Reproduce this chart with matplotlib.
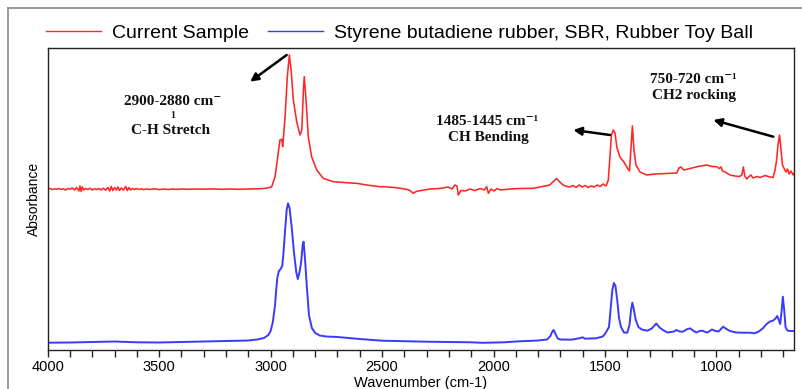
import matplotlib.pyplot as plt
from matplotlib.lines import Line2D
from matplotlib.ticker import MultipleLocator

plt.rcParams['font.family'] = ['Liberation Sans', 'DejaVu Sans']

# Current sample, stacked above the reference (wavenumber cm-1, absorbance)
sample_spectrum = [
    (4000, 1.610), (3990, 1.615), (3980, 1.605), (3970, 1.612), (3960, 1.608),
    (3950, 1.615), (3940, 1.605), (3930, 1.612), (3920, 1.600), (3910, 1.615),
    (3900, 1.608), (3890, 1.620), (3880, 1.600), (3870, 1.625), (3860, 1.590),
    (3855, 1.640), (3850, 1.585), (3845, 1.630), (3838, 1.600), (3830, 1.615),
    (3820, 1.605), (3810, 1.618), (3800, 1.600), (3790, 1.612), (3780, 1.605),
    (3770, 1.615), (3760, 1.600), (3750, 1.618), (3740, 1.598), (3730, 1.625),
    (3722, 1.590), (3715, 1.635), (3708, 1.595), (3700, 1.625), (3692, 1.600),
    (3685, 1.630), (3678, 1.595), (3670, 1.620), (3660, 1.600), (3650, 1.635),
    (3643, 1.595), (3636, 1.625), (3628, 1.600), (3620, 1.615), (3610, 1.605),
    (3600, 1.615), (3590, 1.605), (3580, 1.612), (3570, 1.603), (3560, 1.610),
    (3540, 1.606), (3520, 1.612), (3500, 1.604), (3480, 1.610), (3460, 1.605),
    (3440, 1.610), (3420, 1.606), (3400, 1.610), (3370, 1.607), (3340, 1.610),
    (3300, 1.608), (3260, 1.611), (3220, 1.607), (3180, 1.610), (3140, 1.607),
    (3100, 1.610), (3060, 1.612), (3030, 1.615), (3010, 1.622), (2995, 1.633),
    (2980, 1.733), (2970, 1.900), (2958, 2.100), (2950, 2.107), (2946, 2.033),
    (2935, 2.333), (2925, 2.733), (2916, 2.950), (2908, 2.800), (2898, 2.500),
    (2883, 2.283), (2868, 2.150), (2860, 2.200), (2853, 2.600), (2849, 2.733),
    (2841, 2.500), (2831, 2.133), (2816, 1.933), (2793, 1.800), (2764, 1.717),
    (2719, 1.683), (2659, 1.673), (2614, 1.667), (2569, 1.650), (2509, 1.633),
    (2495, 1.633), (2442, 1.625), (2390, 1.607), (2375, 1.595), (2360, 1.567),
    (2347, 1.585), (2330, 1.593), (2285, 1.610), (2240, 1.615), (2204, 1.630),
    (2186, 1.610), (2173, 1.650), (2164, 1.640), (2158, 1.550), (2146, 1.595),
    (2128, 1.590), (2105, 1.610), (2083, 1.595), (2060, 1.615), (2042, 1.600),
    (2031, 1.633), (2023, 1.567), (2011, 1.610), (1998, 1.590), (1984, 1.615),
    (1970, 1.600), (1925, 1.610), (1880, 1.615), (1821, 1.617), (1769, 1.640),
    (1747, 1.650), (1734, 1.680), (1717, 1.715), (1707, 1.690), (1688, 1.650),
    (1670, 1.635), (1657, 1.630), (1643, 1.645), (1630, 1.625), (1616, 1.650),
    (1602, 1.630), (1589, 1.645), (1576, 1.625), (1562, 1.640), (1549, 1.630),
    (1535, 1.650), (1522, 1.635), (1508, 1.660), (1495, 1.640), (1485, 1.700),
    (1477, 1.950), (1471, 2.150), (1463, 2.200), (1455, 2.170), (1446, 2.020),
    (1433, 1.930), (1415, 1.880), (1397, 1.810), (1390, 1.790), (1384, 2.000),
    (1377, 2.240), (1370, 2.000), (1361, 1.850), (1343, 1.780), (1313, 1.750),
    (1273, 1.760), (1228, 1.765), (1178, 1.770), (1168, 1.820), (1159, 1.830),
    (1146, 1.800), (1118, 1.815), (1083, 1.835), (1043, 1.850), (1020, 1.835),
    (999, 1.833), (988, 1.815), (979, 1.830), (973, 1.790), (961, 1.780),
    (939, 1.750), (917, 1.740), (896, 1.735), (886, 1.750), (879, 1.830),
    (873, 1.740), (864, 1.710), (854, 1.735), (845, 1.750), (836, 1.720),
    (818, 1.735), (804, 1.725), (782, 1.745), (760, 1.730), (746, 1.725),
    (737, 1.800), (730, 1.900), (724, 2.050), (717, 2.150), (710, 2.000),
    (704, 1.850), (697, 1.820), (688, 1.780), (681, 1.810), (674, 1.760),
    (665, 1.790), (656, 1.750), (647, 1.780),
]

# Library reference: styrene butadiene rubber
sbr_spectrum = [
    (4000, 0.073), (3900, 0.075), (3800, 0.080), (3700, 0.085), (3600, 0.077),
    (3500, 0.075), (3400, 0.080), (3300, 0.085), (3200, 0.090), (3100, 0.095),
    (3060, 0.105), (3030, 0.120), (3010, 0.150), (3000, 0.190), (2990, 0.280),
    (2980, 0.450), (2975, 0.600), (2970, 0.720), (2963, 0.790), (2955, 0.810),
    (2948, 0.840), (2943, 0.950), (2935, 1.200), (2928, 1.400), (2922, 1.467),
    (2915, 1.420), (2905, 1.220), (2895, 0.970), (2885, 0.780), (2878, 0.710),
    (2870, 0.780), (2863, 0.880), (2856, 1.050), (2852, 1.083), (2846, 0.920),
    (2838, 0.650), (2828, 0.350), (2815, 0.220), (2800, 0.170), (2780, 0.145),
    (2750, 0.135), (2700, 0.130), (2650, 0.120), (2600, 0.110), (2500, 0.093),
    (2400, 0.088), (2300, 0.083), (2200, 0.080), (2100, 0.077), (2050, 0.072),
    (2000, 0.075), (1950, 0.077), (1900, 0.085), (1800, 0.095), (1760, 0.105),
    (1745, 0.140), (1735, 0.190), (1730, 0.200), (1722, 0.160), (1712, 0.115),
    (1700, 0.105), (1650, 0.103), (1610, 0.120), (1600, 0.127), (1590, 0.113),
    (1540, 0.117), (1510, 0.135), (1500, 0.160), (1490, 0.200), (1482, 0.230),
    (1475, 0.400), (1467, 0.600), (1460, 0.670), (1453, 0.640), (1445, 0.500),
    (1437, 0.320), (1428, 0.230), (1415, 0.175), (1400, 0.173), (1390, 0.250),
    (1383, 0.400), (1377, 0.473), (1370, 0.400), (1362, 0.300), (1350, 0.230),
    (1335, 0.205), (1310, 0.193), (1290, 0.215), (1270, 0.265), (1255, 0.225),
    (1240, 0.200), (1220, 0.175), (1190, 0.185), (1180, 0.200), (1165, 0.185),
    (1150, 0.183), (1135, 0.205), (1118, 0.217), (1105, 0.195), (1090, 0.175),
    (1075, 0.190), (1062, 0.193), (1050, 0.180), (1040, 0.175), (1030, 0.190),
    (1020, 0.205), (1005, 0.190), (990, 0.185), (970, 0.233), (955, 0.210),
    (940, 0.190), (910, 0.175), (880, 0.173), (850, 0.173), (830, 0.167),
    (810, 0.185), (790, 0.220), (775, 0.260), (760, 0.285), (745, 0.295),
    (735, 0.315), (727, 0.340), (720, 0.300), (714, 0.260), (708, 0.380),
    (702, 0.533), (696, 0.400), (690, 0.230), (682, 0.195), (670, 0.190),
    (652, 0.190),
]

legend_labels = ["Current Sample", "Styrene butadiene rubber, SBR, Rubber Toy Ball"]
line_colors = ["#ff2626", "#3a3aff"]
x_ticks = [4000, 3500, 3000, 2500, 2000, 1500, 1000]

W, H = 802, 389
fig = plt.figure(figsize=(W / 100, H / 100), dpi=100)
ax = fig.add_axes([47.7 / W, 1 - 350 / H, (794 - 47.7) / W, (350 - 48) / H])

for spectrum, color, lw in [(sample_spectrum, line_colors[0], 1.15),
                            (sbr_spectrum, line_colors[1], 1.4)]:
    wn, ab = zip(*spectrum)
    ax.plot(wn, ab, color=color, lw=lw)

ax.set_xlim(4000, 652)
ax.set_ylim(0, 3.02)
ax.set_xticks(x_ticks)
ax.xaxis.set_minor_locator(MultipleLocator(100))
ax.tick_params(axis='x', which='both', direction='out', length=5, width=1,
               labelsize=10.5, pad=2.5, color='#222222')
ax.set_yticks([])
for s in ax.spines.values():
    s.set_color('#222222')
    s.set_linewidth(1.0)
ax.set_xlabel('Wavenumber (cm-1)', fontsize=10.5, labelpad=1)
ax.set_ylabel('Absorbance', fontsize=10, labelpad=5)

# band assignments with arrows
serif = dict(family=['Liberation Serif', 'DejaVu Serif'], fontweight='bold',
             ha='center', va='center', color='#111111')
arrow = dict(arrowstyle='-|>', color='black', lw=1.8, mutation_scale=12,
             shrinkA=0, shrinkB=0)

ax.annotate('', xy=(3092, 2.683), xytext=(2928, 2.95), arrowprops=arrow)
ax.text(3438, 2.483, '2900-2880 cm\u207b', fontsize=11, **serif)
ax.text(3439, 2.35, '1', fontsize=7, **serif)
ax.text(3451, 2.19, 'C-H Stretch', fontsize=11, **serif)

ax.annotate('', xy=(1642, 2.20), xytext=(1477, 2.15), arrowprops=arrow)
ax.text(2027, 2.283, '1485-1445 cm\u207b\u00b9', fontsize=11, **serif)
ax.text(2025, 2.12, 'CH Bending', fontsize=11, **serif)

ax.annotate('', xy=(1014, 2.30), xytext=(745, 2.133), arrowprops=arrow)
ax.text(1105, 2.70, '750-720 cm\u207b\u00b9', fontsize=11, **serif)
ax.text(1100, 2.55, 'CH2 rocking', fontsize=11, **serif)

handles = [Line2D([], [], color=c, lw=1.0) for c in line_colors]
fig.legend(handles, legend_labels, loc='center left',
           bbox_to_anchor=(46 / W, 1 - 33 / H), ncol=2, frameon=False,
           fontsize=14, handlelength=2.85, handletextpad=0.52,
           columnspacing=1.0, borderpad=0, borderaxespad=0)

# outer panel border
fig.add_artist(Line2D([8 / W, 8 / W], [0, 1 - 8 / H], color='#8a8a8a', lw=1.2))
fig.add_artist(Line2D([8 / W, 1], [1 - 8 / H, 1 - 8 / H], color='#8a8a8a', lw=1.2))

fig.savefig('out.png', dpi=100)
